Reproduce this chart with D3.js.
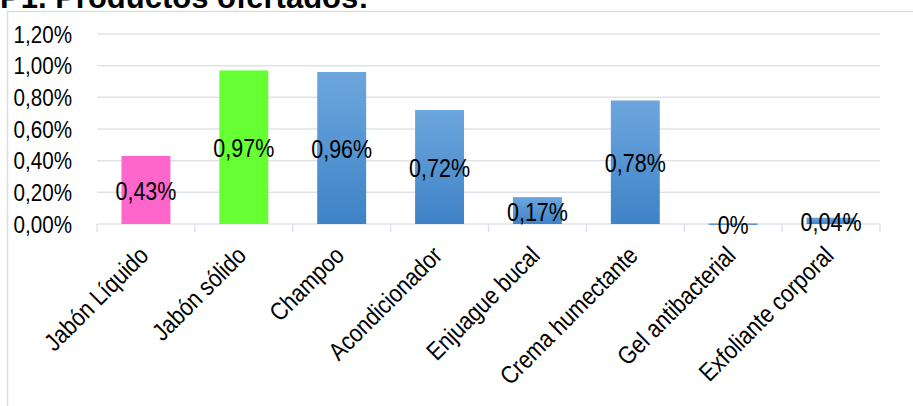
<!DOCTYPE html>
<html>
<head>
<meta charset="utf-8">
<script src="https://cdn.jsdelivr.net/npm/d3@7"></script>
<style>
  body { margin: 0; background: #fff; }
  svg { display: block; font-family: "Liberation Sans", Arial, sans-serif; }
</style>
</head>
<body>
<svg id="chart" width="913" height="406"></svg>
<script>
// data
const categories = ["Jabón Líquido", "Jabón sólido", "Champoo", "Acondicionador",
  "Enjuague bucal", "Crema humectante", "Gel antibacterial", "Exfoliante corporal"];
const values = [0.43, 0.97, 0.96, 0.72, 0.17, 0.78, 0.004, 0.04];
const valueLabels = ["0,43%", "0,97%", "0,96%", "0,72%", "0,17%", "0,78%", "0%", "0,04%"];
const yTicks = [0, 0.2, 0.4, 0.6, 0.8, 1.0, 1.2];
const title = "P1. Productos ofertados:";

const svg = d3.select("#chart");
const margin = { top: 34, left: 97, right: 33, bottom: 182 };
const width = 913 - margin.left - margin.right;
const height = 406 - margin.top - margin.bottom;
const narrow = 0.86; // the text in the picture is drawn a bit condensed

// gradient for the blue bars
const defs = svg.append("defs");
const grad = defs.append("linearGradient")
  .attr("id", "blueGrad")
  .attr("x1", 0).attr("y1", 0).attr("x2", 0).attr("y2", 1);
grad.append("stop").attr("offset", "0%").attr("stop-color", "#6da6de");
grad.append("stop").attr("offset", "100%").attr("stop-color", "#3e83c7");

// outer frame (runs off the right and bottom)
svg.append("rect")
  .attr("x", 7.5).attr("y", 11.5)
  .attr("width", 940).attr("height", 420)
  .attr("fill", "none")
  .attr("stroke", "#d9dee5")
  .attr("stroke-width", 1.5);

// title, partly cut by the top edge like in the picture
svg.append("text")
  .attr("x", 0).attr("y", 8)
  .attr("font-size", 31)
  .attr("font-weight", "bold")
  .attr("fill", "#000")
  .text(title);

const g = svg.append("g")
  .attr("transform", "translate(" + margin.left + "," + margin.top + ")");

const x = d3.scaleBand().domain(categories).range([0, width]).paddingInner(0.5).paddingOuter(0.25);
const xb = d3.scaleBand().domain(categories).range([0, width]);
const y = d3.scaleLinear().domain([0, 1.2]).range([height, 0]);
const fill = d3.scaleOrdinal()
  .domain(categories)
  .range(["#ff66cc", "#66ff33", "url(#blueGrad)", "url(#blueGrad)", "url(#blueGrad)",
    "url(#blueGrad)", "url(#blueGrad)", "url(#blueGrad)"]);

// gridlines
g.append("g")
  .selectAll("line")
  .data(yTicks.filter(d => d > 0))
  .enter().append("line")
  .attr("x1", 0).attr("x2", width)
  .attr("y1", d => y(d)).attr("y2", d => y(d))
  .attr("stroke", "#dfe3e9")
  .attr("stroke-width", 1.5);

// y labels
g.append("g")
  .selectAll("text")
  .data(yTicks)
  .enter().append("text")
  .attr("text-anchor", "end")
  .attr("dy", "0.36em")
  .attr("font-size", 24)
  .attr("fill", "#000")
  .attr("transform", d => "translate(-25," + y(d) + ") scale(" + narrow + ",1)")
  .text(d => d3.format(".2f")(d).replace(".", ",") + "%");

// x axis line and tick marks at band edges
const xAxis = g.append("g")
  .attr("transform", "translate(0," + height + ")");
xAxis.append("line")
  .attr("x1", 0).attr("x2", width)
  .attr("stroke", "#dfe3e9").attr("stroke-width", 1.5);
xAxis.selectAll(".tk")
  .data(categories.concat(["end"]))
  .enter().append("line")
  .attr("class", "tk")
  .attr("x1", (d, i) => i < categories.length ? xb(d) : width)
  .attr("x2", (d, i) => i < categories.length ? xb(d) : width)
  .attr("y1", 0).attr("y2", 8)
  .attr("stroke", "#dfe3e9").attr("stroke-width", 1.5);

// category labels, rotated
xAxis.selectAll(".cat")
  .data(categories)
  .enter().append("text")
  .attr("class", "cat")
  .attr("text-anchor", "end")
  .attr("font-size", 25)
  .attr("fill", "#000")
  .attr("transform", d => "translate(" + (xb(d) + xb.bandwidth() / 2 + 4) + ",33) rotate(-45) scale(" + narrow + ",1)")
  .text(d => d);

// bars
g.selectAll(".bar")
  .data(values)
  .enter().append("rect")
  .attr("class", "bar")
  .attr("x", (d, i) => x(categories[i]))
  .attr("y", d => y(d))
  .attr("width", x.bandwidth())
  .attr("height", d => Math.max(1.5, height - y(d)))
  .attr("fill", (d, i) => fill(categories[i]));

// value labels centred in the bars
g.selectAll(".value")
  .data(values)
  .enter().append("text")
  .attr("class", "value")
  .attr("text-anchor", "middle")
  .attr("dy", "0.36em")
  .attr("font-size", 25)
  .attr("fill", "#000")
  .attr("transform", (d, i) => "translate(" + (x(categories[i]) + x.bandwidth() / 2) + "," +
    ((y(d) + height) / 2 + 1) + ") scale(" + narrow + ",1)")
  .text((d, i) => valueLabels[i]);
</script>
</body>
</html>
